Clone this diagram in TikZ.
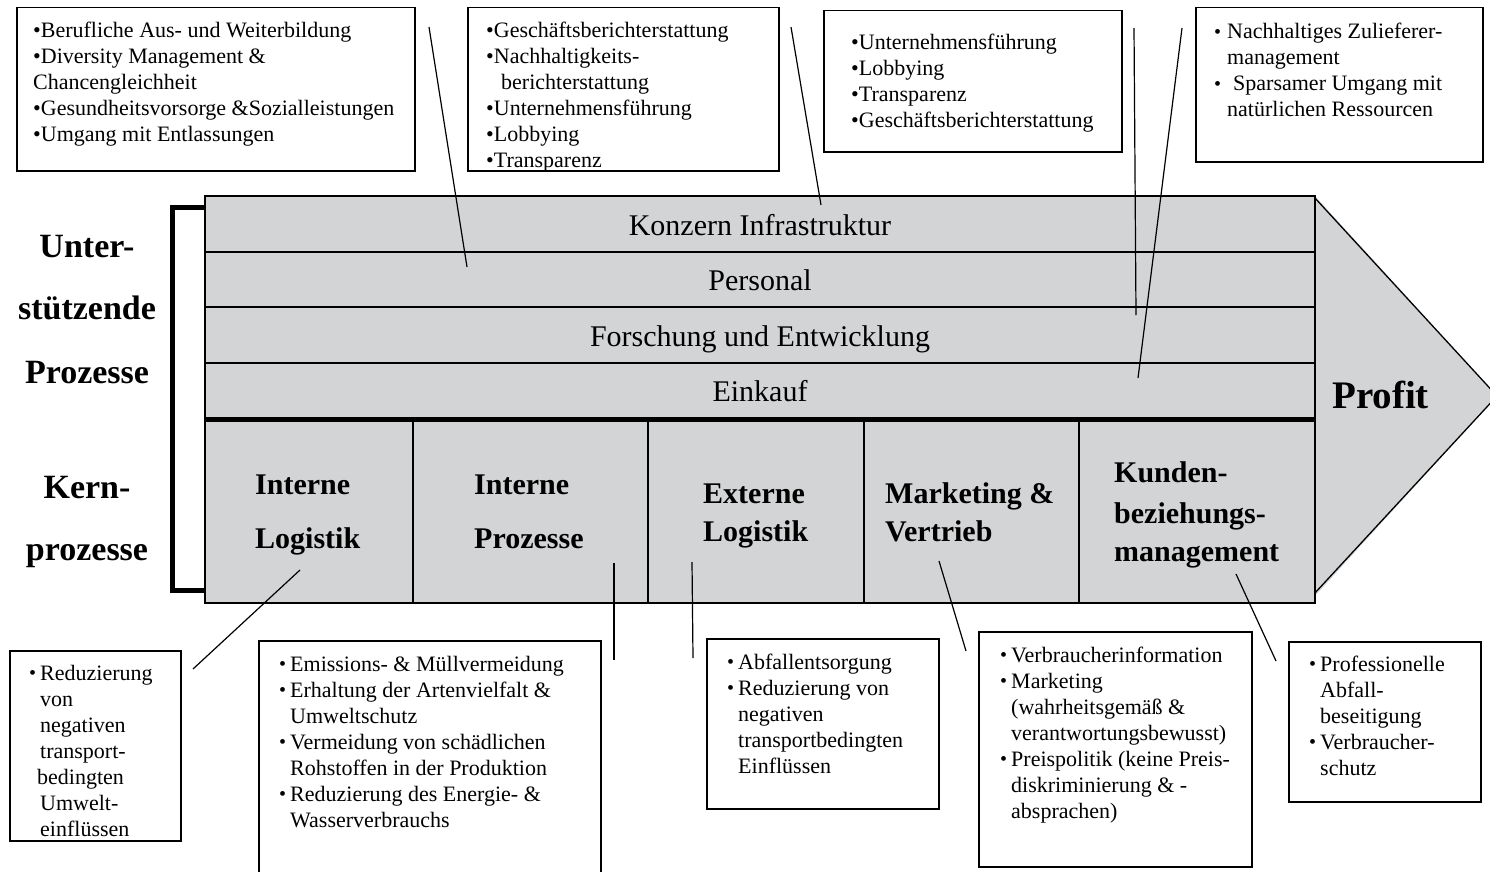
\documentclass[tikz,border=0pt]{standalone}
\usepackage{fontspec}
\setmainfont{Liberation Serif}
\definecolor{procgray}{RGB}{211,212,214}
\newcommand\ml[1]{\begin{tabular}[t]{@{}l@{}}#1\end{tabular}}
\newcommand\smb{\raisebox{0.6pt}{\fontsize{20}{20}\selectfont\textbullet}}
\newcommand\bi{\makebox[11pt][l]{\smb}}
\newcommand\ind{\hspace*{11pt}}
\begin{document}
\begin{tikzpicture}[x=1pt,y=-1pt,
  box/.style={draw, line width=1.5pt, anchor=north west, inner sep=0pt},
  btxt/.style={anchor=base west, inner sep=0pt, font=\fontsize{22}{26}\selectfont},
  rowbox/.style={draw, line width=2pt, anchor=north west, inner sep=0pt, minimum width=1110pt},
  corebox/.style={draw, line width=2pt, anchor=north west, inner sep=0pt, minimum height=185pt},
  rowlbl/.style={anchor=base, inner sep=0pt, font=\fontsize{30}{34}\selectfont},
  corelbl/.style={anchor=base west, inner sep=0pt, font=\bfseries\fontsize{30}{36}\selectfont},
  sidelbl/.style={anchor=base, inner sep=0pt, font=\bfseries\fontsize{34}{40}\selectfont},
  conn/.style={line width=1.2pt}
]
\useasboundingbox (0,0) rectangle (1490,872);

% arrow head
\fill[procgray] (1314,195) -- (1497,396) -- (1314,597) -- cycle;
\draw[line width=1.3pt] (1314,197) -- (1497,396) -- (1314,594);
\fill[procgray] (204,195) rectangle (1314,602);

% support rows
\node[rowbox, minimum height=56pt] (r1) at (204,195) {};
\node[rowbox, minimum height=55pt] (r2) at (204,251) {};
\node[rowbox, minimum height=56pt] (r3) at (204,306) {};
\node[rowbox, minimum height=55pt] (r4) at (204,362) {};
% core columns
\node[corebox, minimum width=208pt] (c1) at (204,417) {};
\node[corebox, minimum width=235pt] (c2) at (412,417) {};
\node[corebox, minimum width=216pt] (c3) at (647,417) {};
\node[corebox, minimum width=215pt] (c4) at (863,417) {};
\node[corebox, minimum width=236pt] (c5) at (1078,417) {};
\draw[line width=5pt] (r4.south west) -- (r4.south east);

% bracket
\coordinate (bt) at (204,207);
\coordinate (bb) at (204,590);
\draw[line width=5pt] (bt) -- (172,207) -- (172,590) -- (bb);

% row labels
\node[rowlbl] (l1) at (760,235) {Konzern Infrastruktur};
\node[rowlbl] (l2) at (760,290) {Personal};
\node[rowlbl] (l3) at (760,346) {Forschung und Entwicklung};
\node[rowlbl] (l4) at (760,401) {Einkauf};

% side labels
\node[sidelbl] (s1) at (87,257) {Unter-};
\node[sidelbl] (s2) at (87,319) {stützende};
\node[sidelbl] (s3) at (87,383) {Prozesse};
\node[sidelbl] (s4) at (87,498) {Kern-};
\node[sidelbl] (s5) at (87,560) {prozesse};

% core labels
\node[corelbl] (k1a) at (255,494) {Interne};
\node[corelbl] (k1b) at (255,548) {Logistik};
\node[corelbl] (k2a) at (474,494) {Interne};
\node[corelbl] (k2b) at (474,548) {Prozesse};
\node[corelbl] (k3a) at (703,503) {Externe};
\node[corelbl] (k3b) at (703,541) {Logistik};
\node[corelbl] (k4a) at (885,503) {Marketing \&};
\node[corelbl] (k4b) at (885,541) {Vertrieb};
\node[corelbl] (k5a) at (1114,482) {Kunden-};
\node[corelbl] (k5b) at (1114,523) {beziehungs-};
\node[corelbl] (k5c) at (1114,561) {management};
\node[anchor=base west, inner sep=0pt, font=\bfseries\fontsize{39}{44}\selectfont] (profit) at (1332,408) {Profit};

% top boxes
\node[box, minimum width=398pt, minimum height=163pt] (ta) at (16,7) {};
\node[btxt] (tat) at (33,38) {\ml{\textbullet Berufliche Aus- und Weiterbildung\\
\textbullet Diversity Management \&\\
Chancengleichheit\\
\textbullet Gesundheitsvorsorge \&Sozialleistungen\\
\textbullet Umgang mit Entlassungen}};

\node[box, minimum width=311pt, minimum height=163pt] (tb) at (467,7) {};
\node[btxt] (tbt) at (486,38) {\ml{\textbullet Geschäftsberichterstattung\\
\textbullet Nachhaltigkeits-\\
\hspace*{15pt}berichterstattung\\
\textbullet Unternehmensführung\\
\textbullet Lobbying\\
\textbullet Transparenz}};

\node[box, minimum width=298pt, minimum height=141pt] (tc) at (823,10) {};
\node[btxt] (tct) at (851,50) {\ml{\textbullet Unternehmensführung\\
\textbullet Lobbying\\
\textbullet Transparenz\\
\textbullet Geschäftsberichterstattung}};

\node[box, minimum width=287pt, minimum height=154pt] (td) at (1195,7) {};
\node[btxt] (tdt) at (1214,39) {\ml{\makebox[13pt][l]{\smb}Nachhaltiges Zulieferer-\\
\hspace*{13pt}management\\
\makebox[19pt][l]{\smb}Sparsamer Umgang mit\\
\hspace*{13pt}natürlichen Ressourcen}};

% bottom boxes
\node[box, minimum width=171pt, minimum height=190pt] (ba) at (9,650) {};
\node[btxt] (bat) at (29,680) {\ml{\bi Reduzierung\\
\ind von\\
\ind negativen\\
\ind transport-\\
\hspace*{8pt}bedingten\\
\ind Umwelt-\\
\ind einflüssen}};

\node[box, minimum width=342pt, minimum height=240pt] (bb2) at (258,640) {};
\node[btxt] (bbt) at (279,671) {\ml{\bi Emissions- \& Müllvermeidung\\
\bi Erhaltung der Artenvielfalt \&\\
\ind Umweltschutz\\
\bi Vermeidung von schädlichen\\
\ind Rohstoffen in der Produktion\\
\bi Reduzierung des Energie- \&\\
\ind Wasserverbrauchs}};

\node[box, minimum width=232pt, minimum height=170pt] (bc) at (706,638) {};
\node[btxt] (bct) at (727,669) {\ml{\bi Abfallentsorgung\\
\bi Reduzierung von\\
\ind negativen\\
\ind transportbedingten\\
\ind Einflüssen}};

\node[box, minimum width=273pt, minimum height=235pt] (bd) at (978,631) {};
\node[btxt] (bdt) at (1000,662) {\ml{\bi Verbraucherinformation\\
\bi Marketing\\
\ind (wahrheitsgemäß \&\\
\ind verantwortungsbewusst)\\
\bi Preispolitik (keine Preis-\\
\ind diskriminierung \& -\\
\ind absprachen)}};

\node[box, minimum width=192pt, minimum height=160pt] (be) at (1288,641) {};
\node[btxt] (bet) at (1309,671) {\ml{\bi Professionelle\\
\ind Abfall-\\
\ind beseitigung\\
\bi Verbraucher-\\
\ind schutz}};

% connectors
\coordinate (p1a) at (429,27);  \coordinate (p1b) at (467,267);
\coordinate (p2a) at (791,27);  \coordinate (p2b) at (821,205);
\coordinate (p3a) at (1134,28); \coordinate (p3b) at (1136,315);
\coordinate (p4a) at (1182,28); \coordinate (p4b) at (1138,378);
\coordinate (q1a) at (300,570); \coordinate (q1b) at (193,669);
\coordinate (q2a) at (614,563); \coordinate (q2b) at (614,660);
\coordinate (q3a) at (692,562); \coordinate (q3b) at (693,658);
\coordinate (q4a) at (939,561); \coordinate (q4b) at (966,651);
\coordinate (q5a) at (1236,574); \coordinate (q5b) at (1276,661);
\foreach \a/\b in {p1a/p1b,p2a/p2b,p3a/p3b,p4a/p4b,q1a/q1b,q2a/q2b,q3a/q3b,q4a/q4b,q5a/q5b}
  \draw[conn] (\a) -- (\b);
\end{tikzpicture}
\end{document}
